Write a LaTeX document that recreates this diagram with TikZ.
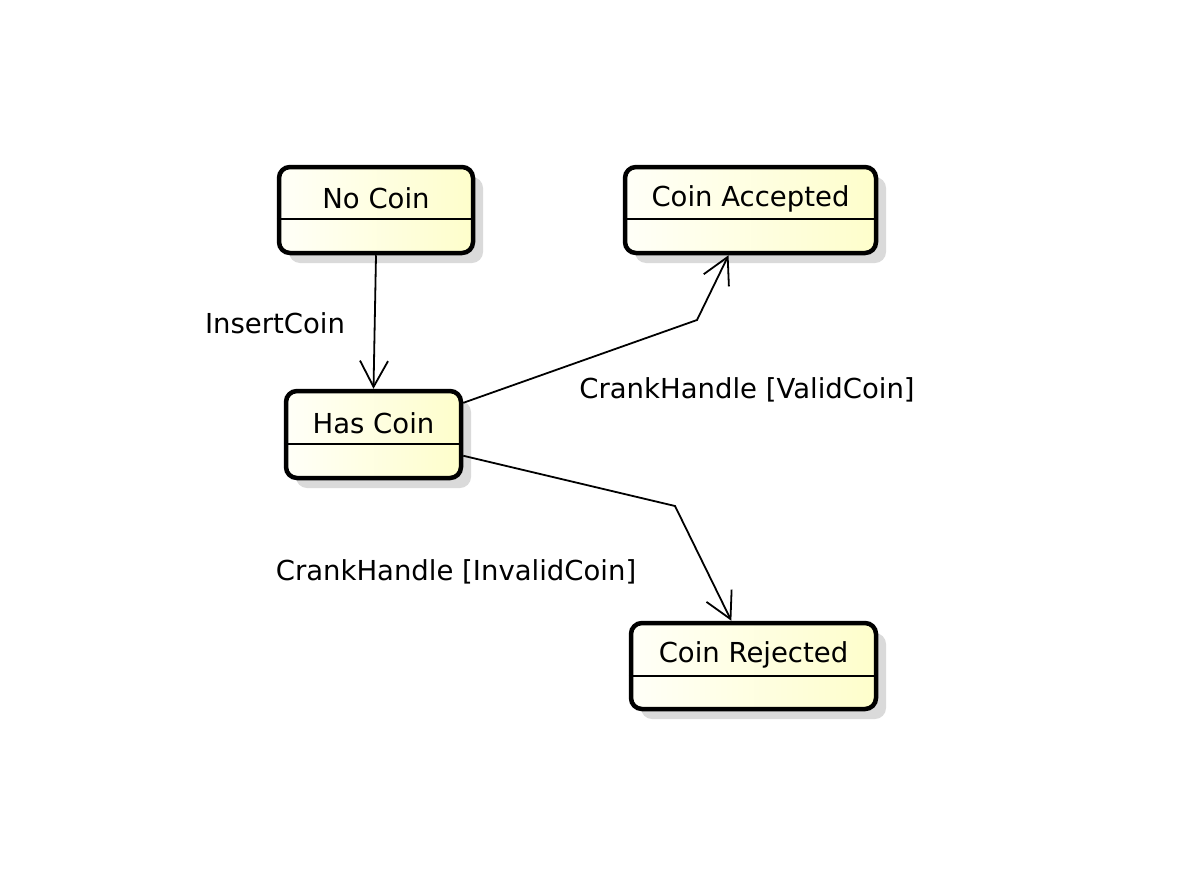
\documentclass[tikz,border=0pt]{standalone}
\usepackage{fontspec}
\setmainfont{DejaVu Sans}
\usetikzlibrary{arrows.meta,shadows,calc}
\definecolor{stL}{HTML}{FFFFF8}
\definecolor{stR}{HTML}{FEFECB}
\definecolor{shd}{HTML}{DADADA}
\tikzset{
  statebox/.style={draw=black, line width=4.5pt, rounded corners=11pt,
    left color=stL, right color=stR, shading angle=90,
    drop shadow={shadow xshift=10pt, shadow yshift=-10pt, fill=shd, opacity=1},
    inner sep=0pt},
  title/.style={font=\fontsize{27.5}{32}\selectfont, inner sep=0pt, anchor=center},
  divider/.style={line width=1.8pt},
  trans/.style={line width=1.8pt, -{Straight Barb[length=26pt,width=28pt,line width=1.8pt]}},
  lbl/.style={font=\fontsize{27.5}{32}\selectfont, inner sep=0pt, anchor=center}
}
\begin{document}
\begin{tikzpicture}[x=1pt,y=-1pt]
\useasboundingbox (0,0) rectangle (1180,870);
% states
\node[statebox, minimum width=194pt, minimum height=86pt] (nc) at (376,210) {};
\node[statebox, minimum width=175pt, minimum height=87pt] (hc) at (373.5,434.5) {};
\node[statebox, minimum width=251pt, minimum height=86pt] (ca) at (750.5,210) {};
\node[statebox, minimum width=245pt, minimum height=86pt] (cr) at (753.5,666) {};
% dividers
\draw[divider] ($(nc.north west)+(0,54)$) coordinate (ncdl) -- (ncdl -| nc.east);
\draw[divider] ($(hc.north west)+(0,55)$) coordinate (hcdl) -- (hcdl -| hc.east);
\draw[divider] ($(ca.north west)+(0,54)$) coordinate (cadl) -- (cadl -| ca.east);
\draw[divider] ($(cr.north west)+(0,55)$) coordinate (crdl) -- (crdl -| cr.east);
% titles
\node[title] (nct) at ($(nc.north)+(0,33.5)$) {No Coin};
\node[title] (hct) at ($(hc.north)+(0,34.5)$) {Has Coin};
\node[title] (cat) at ($(ca.north)+(0,34.5)$) {Coin Accepted};
\node[title] (crt) at ($(cr.north)+(0,34.5)$) {Coin Rejected};
% bends
\coordinate (b1) at (697,320);
\coordinate (b2) at (675,506);
% transitions
\draw[trans] (nc.south) -- (hc.north);
\draw[trans] (hc) -- (b1) -- (ca);
\draw[trans] (hc) -- (b2) -- (cr);
% labels
\node[lbl] (l1) at (275,323) {InsertCoin};
\node[lbl] (l2) at (747,390) {CrankHandle [ValidCoin]};
\node[lbl] (l3) at (456,572) {CrankHandle [InvalidCoin]};
\end{tikzpicture}
\end{document}
